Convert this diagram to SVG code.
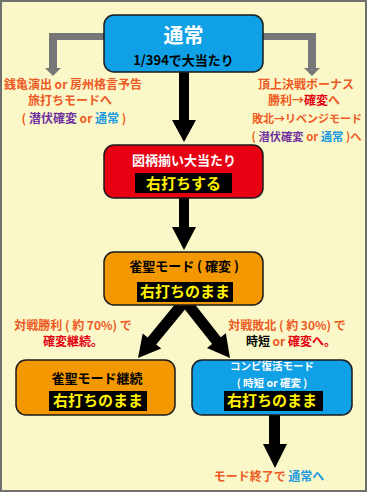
<svg xmlns="http://www.w3.org/2000/svg" width="367" height="492" viewBox="0 0 367 492">
<style>
text{font-family:"Noto Sans CJK JP","Noto Sans",sans-serif;font-weight:bold;text-anchor:middle}
.o{fill:#EE5A24}.r{fill:#E60012}.p{fill:#7030A0}.b{fill:#1E9BE0}.k{fill:#000}.w{fill:#fff}.y{fill:#FFF100}
.node{stroke:#1a1a1a;stroke-width:1.5}
.lbl{font-size:12px}
.arr{fill:#000}.garr{fill:#777}
</style>
<rect x="1" y="1" width="365" height="490" fill="#FAF8C8" stroke="#707070" stroke-width="2"/>
<g id="connectors">
<polygon class="garr" points="104,33 49,33 49,68 45,68 53,76 61,68 57,68 57,40 104,40"/>
<polygon class="garr" points="262,33 316,33 316,68 320,68 312,76 304,68 308,68 308,40 262,40"/>
<polygon class="arr" points="179,70 189,70 189,120 196,120 184,142 172,120 179,120"/>
<polygon class="arr" points="179,196 189,196 189,227 196,227 184,250 172,227 179,227"/>
<polygon class="arr" points="179.75,298.51 147.71,337.51 142.69,333.38 138,358 161.23,348.62 156.21,344.49 188.25,305.49"/>
<polygon class="arr" points="190.32,298.6 220.73,337.3 225.85,333.29 230,358 206.97,348.11 212.09,344.1 181.68,305.4"/>
<polygon class="arr" points="269,413 280,413 280,444 287,444 275,468 263,444 269,444"/>
</g>
<g id="n-normal">
<rect class="node" x="104" y="15" width="159" height="57" rx="10" fill="#0FA0E6"/>
<text class="w" x="183.5" y="43" font-size="20">通常</text>
<text class="k" x="183.5" y="65" font-size="13">1/394で大当たり</text>
</g>
<g id="n-left-note">
<text class="lbl o" x="73" y="89">銭亀演出 or 房州格言予告</text>
<text class="lbl o" x="70" y="105">旅打ちモードへ</text>
<text class="lbl o" x="74" y="123">( <tspan class="p">潜伏確変</tspan> or <tspan class="b">通常</tspan> )</text>
</g>
<g id="n-right-note">
<text class="lbl o" x="306" y="89">頂上決戦ボーナス</text>
<text class="lbl o" x="304" y="105">勝利→<tspan class="r">確変</tspan>へ</text>
<text class="o" x="307" y="123" font-size="11">敗北→リベンジモード</text>
<text class="o" x="306.5" y="141" font-size="11.3">( <tspan class="p">潜伏確変</tspan> or <tspan class="b">通常</tspan> )へ</text>
</g>
<g id="n-jackpot">
<rect class="node" x="104" y="145" width="159" height="53" rx="10" fill="#E60012"/>
<text class="w" x="184" y="165" font-size="13">図柄揃い大当たり</text>
<rect x="135" y="173" width="97" height="20" fill="#000"/>
<text class="y" x="183.5" y="189" font-size="15">右打ちする</text>
</g>
<g id="n-jakusei">
<rect class="node" x="104" y="252" width="159" height="53" rx="10" fill="#F39800"/>
<text class="k" x="184" y="271" font-size="13">雀聖モード ( 確変 )</text>
<rect x="137" y="282" width="96" height="20" fill="#000"/>
<text class="y" x="185" y="297" font-size="15">右打ちのまま</text>
</g>
<g id="n-mid-left-note">
<text class="lbl o" x="73" y="330">対戦勝利 ( 約 70%) で</text>
<text class="lbl r" x="73" y="346">確変継続。</text>
</g>
<g id="n-mid-right-note">
<text class="lbl o" x="287" y="330">対戦敗北 ( 約 30%) で</text>
<text class="lbl k" x="291" y="346">時短 <tspan class="o">or</tspan> <tspan class="r">確変へ。</tspan></text>
</g>
<g id="n-continue">
<rect class="node" x="16" y="360" width="159" height="55" rx="10" fill="#F39800"/>
<text class="k" x="97" y="383" font-size="13">雀聖モード継続</text>
<rect x="49" y="391" width="98" height="20" fill="#000"/>
<text class="y" x="98" y="406" font-size="15">右打ちのまま</text>
</g>
<g id="n-combi">
<rect class="node" x="192" y="360" width="160" height="55" rx="10" fill="#0FA0E6"/>
<text class="w" x="272" y="370" font-size="10.5" font-weight="normal">コンビ復活モード</text>
<text class="w" x="272" y="387" font-size="10.5" font-weight="normal">( 時短 or 確変 )</text>
<rect x="224" y="391" width="99" height="20" fill="#000"/>
<text class="y" x="272" y="406" font-size="15">右打ちのまま</text>
</g>
<g id="n-end-note">
<text class="lbl o" x="269" y="481">モード終了で <tspan class="b">通常へ</tspan></text>
</g>
</svg>
